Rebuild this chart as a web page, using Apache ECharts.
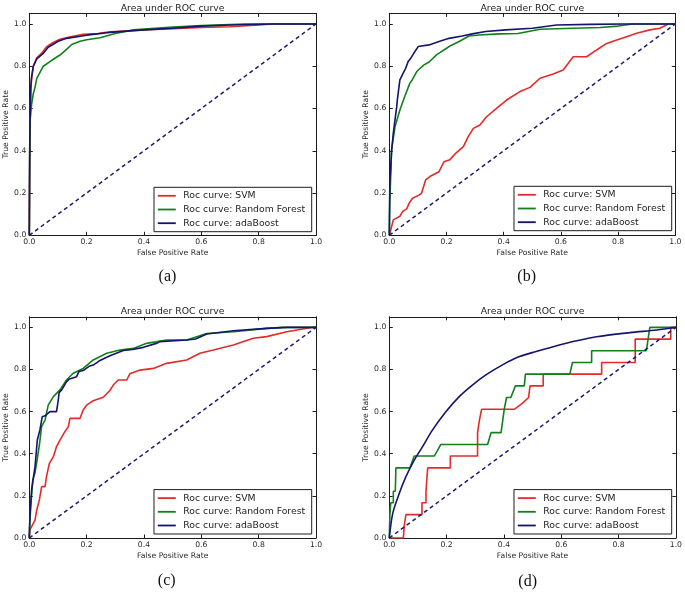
<!DOCTYPE html>
<html><head><meta charset="utf-8">
<script src="https://cdn.jsdelivr.net/npm/echarts@6/dist/echarts.min.js"></script>
<style>html,body{margin:0;padding:0;background:#fff}#c{width:685px;height:592px}</style>
</head><body><div id="c"></div>
<script>
// ---- data ----
const xTicks = [0, 0.2, 0.4, 0.6, 0.8, 1.0];
const yTicks = [0, 0.2, 0.4, 0.6, 0.8, 1.0];
const seriesNames = ['Roc curve: SVM', 'Roc curve: Random Forest', 'Roc curve: adaBoost'];
const panelTitle = 'Area under ROC curve';
const xName = 'False Positive Rate';
const yName = 'True Positive Rate';
const captions = ['(a)', '(b)', '(c)', '(d)'];
const diag = [[0, 0], [1, 1]];

// panel (a)
const svmA = [[0,0],[0.002,0.45],[0.005,0.68],[0.008,0.74],[0.014,0.80],[0.026,0.84],[0.045,0.865],[0.061,0.893],[0.08,0.91],[0.107,0.928],[0.14,0.938],[0.188,0.951],[0.24,0.955],[0.28,0.963],[0.35,0.968],[0.4,0.972],[0.5,0.978],[0.6,0.983],[0.7,0.987],[0.8,0.995],[0.85,1.0],[1,1]];
const rfA = [[0,0],[0.001,0.38],[0.003,0.55],[0.008,0.62],[0.014,0.67],[0.02,0.70],[0.026,0.743],[0.049,0.80],[0.072,0.822],[0.084,0.833],[0.107,0.853],[0.13,0.88],[0.148,0.903],[0.177,0.918],[0.2,0.925],[0.247,0.935],[0.3,0.955],[0.363,0.972],[0.5,0.985],[0.6,0.993],[0.75,1.0],[1,1]];
const adaA = [[0,0],[0.002,0.5],[0.005,0.7],[0.008,0.75],[0.014,0.80],[0.026,0.835],[0.049,0.861],[0.066,0.89],[0.101,0.918],[0.13,0.932],[0.2,0.947],[0.28,0.96],[0.4,0.972],[0.5,0.98],[0.6,0.99],[0.7,0.995],[0.85,1.0],[1,1]];

// panel (b)
const svmB = [[0,0],[0.005,0.025],[0.014,0.073],[0.037,0.09],[0.046,0.112],[0.061,0.125],[0.069,0.151],[0.081,0.175],[0.104,0.19],[0.113,0.2],[0.127,0.262],[0.142,0.278],[0.174,0.301],[0.191,0.348],[0.212,0.358],[0.232,0.388],[0.259,0.42],[0.276,0.467],[0.294,0.506],[0.317,0.522],[0.34,0.561],[0.375,0.601],[0.41,0.64],[0.457,0.68],[0.492,0.70],[0.527,0.743],[0.573,0.763],[0.608,0.782],[0.643,0.845],[0.69,0.845],[0.725,0.877],[0.76,0.908],[0.795,0.924],[0.83,0.94],[0.865,0.956],[0.911,0.972],[0.946,0.98],[0.976,1.0],[1,1]];
const rfB = [[0,0],[0.001,0.1],[0.002,0.167],[0.008,0.404],[0.02,0.514],[0.037,0.593],[0.055,0.66],[0.072,0.72],[0.08,0.735],[0.096,0.775],[0.12,0.805],[0.139,0.82],[0.166,0.855],[0.174,0.862],[0.2,0.885],[0.209,0.893],[0.244,0.917],[0.279,0.943],[0.314,0.948],[0.384,0.953],[0.45,0.955],[0.5,0.968],[0.527,0.975],[0.643,0.98],[0.737,0.983],[0.8,0.99],[0.85,1.0],[1,1]];
const adaB = [[0,0],[0.001,0.15],[0.002,0.246],[0.008,0.40],[0.014,0.483],[0.026,0.61],[0.028,0.64],[0.037,0.735],[0.046,0.76],[0.057,0.79],[0.066,0.822],[0.075,0.838],[0.085,0.86],[0.101,0.893],[0.139,0.901],[0.174,0.917],[0.209,0.932],[0.255,0.943],[0.29,0.953],[0.337,0.964],[0.407,0.972],[0.5,0.98],[0.585,0.995],[0.7,0.998],[0.818,1.0],[1,1]];

// panel (c)
const svmC = [[0,0],[0.002,0.038],[0.008,0.054],[0.02,0.085],[0.026,0.133],[0.035,0.18],[0.043,0.244],[0.055,0.244],[0.06,0.291],[0.07,0.354],[0.084,0.386],[0.095,0.434],[0.107,0.465],[0.124,0.505],[0.136,0.528],[0.142,0.568],[0.177,0.568],[0.188,0.608],[0.2,0.631],[0.223,0.652],[0.258,0.668],[0.281,0.7],[0.293,0.726],[0.31,0.75],[0.34,0.75],[0.351,0.78],[0.386,0.797],[0.433,0.805],[0.479,0.829],[0.549,0.845],[0.595,0.877],[0.642,0.892],[0.712,0.916],[0.781,0.948],[0.828,0.956],[0.898,0.979],[0.99,1.0],[1,1]];
const rfC = [[0,0],[0.001,0.05],[0.005,0.149],[0.012,0.275],[0.02,0.31],[0.026,0.36],[0.035,0.44],[0.043,0.53],[0.055,0.56],[0.066,0.631],[0.084,0.671],[0.107,0.703],[0.13,0.75],[0.153,0.782],[0.188,0.805],[0.223,0.845],[0.27,0.877],[0.316,0.892],[0.363,0.90],[0.409,0.924],[0.479,0.94],[0.549,0.94],[0.619,0.971],[0.712,0.979],[0.828,0.995],[0.886,1.0],[1,1]];
const adaC = [[0,0],[0.002,0.101],[0.008,0.228],[0.02,0.339],[0.028,0.465],[0.037,0.513],[0.045,0.575],[0.055,0.58],[0.072,0.60],[0.095,0.60],[0.101,0.655],[0.104,0.69],[0.113,0.703],[0.13,0.742],[0.138,0.753],[0.165,0.766],[0.173,0.79],[0.188,0.795],[0.208,0.815],[0.223,0.821],[0.243,0.84],[0.27,0.858],[0.29,0.87],[0.328,0.89],[0.36,0.895],[0.398,0.905],[0.446,0.925],[0.456,0.932],[0.549,0.94],[0.58,0.945],[0.619,0.968],[0.712,0.984],[0.828,0.995],[0.9,1.0],[1,1]];

// panel (d)
const svmD = [[0,0],[0.049,0],[0.052,0.056],[0.058,0.111],[0.114,0.111],[0.114,0.167],[0.128,0.167],[0.128,0.222],[0.131,0.278],[0.134,0.333],[0.213,0.333],[0.213,0.389],[0.308,0.389],[0.308,0.5],[0.314,0.556],[0.322,0.611],[0.436,0.611],[0.465,0.64],[0.486,0.667],[0.491,0.722],[0.537,0.722],[0.537,0.778],[0.741,0.778],[0.741,0.833],[0.858,0.833],[0.858,0.944],[0.982,0.944],[0.982,1.0],[1,1]];
const rfD = [[0,0],[0.002,0.111],[0.005,0.167],[0.014,0.167],[0.014,0.222],[0.021,0.222],[0.023,0.333],[0.072,0.333],[0.087,0.389],[0.157,0.389],[0.18,0.444],[0.343,0.444],[0.355,0.5],[0.39,0.5],[0.401,0.611],[0.409,0.667],[0.424,0.667],[0.44,0.722],[0.471,0.722],[0.475,0.778],[0.63,0.778],[0.639,0.833],[0.706,0.833],[0.706,0.889],[0.897,0.889],[0.903,0.944],[0.909,1.0],[1,1]];
const adaD = [[0,0],[0.012,0.117],[0.035,0.212],[0.058,0.291],[0.087,0.37],[0.116,0.434],[0.151,0.513],[0.198,0.60],[0.244,0.671],[0.291,0.727],[0.337,0.774],[0.395,0.822],[0.454,0.861],[0.512,0.885],[0.607,0.921],[0.723,0.955],[0.84,0.975],[0.933,0.987],[1,1]];

const panelData = [[svmA, rfA, adaA], [svmB, rfB, adaB], [svmC, rfC, adaC], [svmD, rfD, adaD]];

// ---- layout / style ----
const FONT = 'DejaVu Sans';
const colors = ['#e52a2a', '#12801a', '#14146e'];
const ink = '#1c1c1c';
const layout = [
  {left: 29.3, top: 13.4, width: 286.7, height: 221.9, titleTop: 3.9, capX: 167.5, capTop: 268.5, lgRight: 373.3, lgBottom: 360.3},
  {left: 389.3, top: 13.4, width: 286.0, height: 221.9, titleTop: 3.9, capX: 526.7, capTop: 268.5, lgRight: 13.3, lgBottom: 361.3},
  {left: 29.3, top: 316.8, width: 286.7, height: 221.2, titleTop: 307, capX: 166.7, capTop: 572.5, lgRight: 373.3, lgBottom: 58},
  {left: 389.3, top: 316.8, width: 286.7, height: 221.2, titleTop: 307, capX: 527.7, capTop: 574, lgRight: 13.3, lgBottom: 58}
];

const fmt = v => v.toFixed(1);
const grid = [], xAxis = [], yAxis = [], series = [], legend = [], title = [];

layout.forEach((L, i) => {
  grid.push({left: L.left, top: L.top, width: L.width, height: L.height, containLabel: false});
  const line = {show: true, onZero: false, lineStyle: {color: ink, width: 1}};
  const tick = {show: true, inside: true, length: 3.5, lineStyle: {color: ink, width: 1}};
  xAxis.push({
    gridIndex: i, type: 'value', min: 0, max: 1, interval: 0.2, position: 'bottom',
    axisLine: line, axisTick: tick, splitLine: {show: false},
    axisLabel: {margin: 3, fontSize: 7.7, fontFamily: FONT, color: '#2a2a2a', formatter: fmt},
    name: xName, nameLocation: 'middle', nameGap: 14,
    nameTextStyle: {fontSize: 7.7, fontFamily: FONT, color: '#2a2a2a'}
  });
  xAxis.push({
    gridIndex: i, type: 'value', min: 0, max: 1, interval: 0.2, position: 'top',
    axisLine: line, axisTick: tick, splitLine: {show: false}, axisLabel: {show: false}
  });
  yAxis.push({
    gridIndex: i, type: 'value', min: 0, max: 1.05, position: 'left',
    axisLine: line, axisTick: Object.assign({customValues: yTicks}, tick), splitLine: {show: false},
    axisLabel: {customValues: yTicks, margin: 3, fontSize: 7.7, fontFamily: FONT, color: '#2a2a2a', formatter: fmt},
    name: yName, nameLocation: 'middle', nameGap: 18.5, nameRotate: 90,
    nameTextStyle: {fontSize: 7.7, fontFamily: FONT, color: '#2a2a2a'}
  });
  yAxis.push({
    gridIndex: i, type: 'value', min: 0, max: 1.05, position: 'right',
    axisLine: line, axisTick: Object.assign({customValues: yTicks}, tick), splitLine: {show: false},
    axisLabel: {show: false}
  });
  panelData[i].forEach((d, k) => {
    series.push({
      type: 'line', name: seriesNames[k], xAxisIndex: 2 * i, yAxisIndex: 2 * i,
      data: d, symbol: 'none', smooth: (i === 3 && k === 2) ? 0.3 : false,
      lineStyle: {color: colors[k], width: 1.6}, itemStyle: {color: colors[k]},
      silent: true, animation: false
    });
  });
  series.push({
    type: 'line', name: 'chance', xAxisIndex: 2 * i, yAxisIndex: 2 * i,
    data: diag, symbol: 'none',
    lineStyle: {color: '#1a1a6e', width: 1.5, type: [4, 3.2]},
    silent: true, animation: false
  });
  legend.push({
    orient: 'vertical', right: L.lgRight, bottom: L.lgBottom, data: seriesNames,
    icon: 'rect', itemWidth: 18, itemHeight: 1.8, itemGap: 2.7, padding: [3, 6.5, 3, 3.8],
    borderColor: ink, borderWidth: 1, borderRadius: 0, backgroundColor: '#fff',
    selectedMode: false,
    textStyle: {fontSize: 9.3, fontFamily: FONT, color: ink, lineHeight: 11, padding: [0, 0, 0, 2.5]}
  });
  title.push({
    text: panelTitle, left: L.left + L.width / 2, top: L.titleTop, textAlign: 'center', padding: 0,
    textStyle: {fontSize: 9.3, fontWeight: 'normal', fontFamily: FONT, color: ink}
  });
  title.push({
    text: captions[i], left: L.capX, top: L.capTop, textAlign: 'center', padding: 0,
    textStyle: {fontSize: 16, fontWeight: 'normal', fontFamily: 'Liberation Serif', color: '#111'}
  });
});

const chart = echarts.init(document.getElementById('c'), null, {renderer: 'canvas'});
chart.setOption({backgroundColor: '#fff', animation: false, grid, xAxis, yAxis, series, legend, title});
</script>
</body></html>
